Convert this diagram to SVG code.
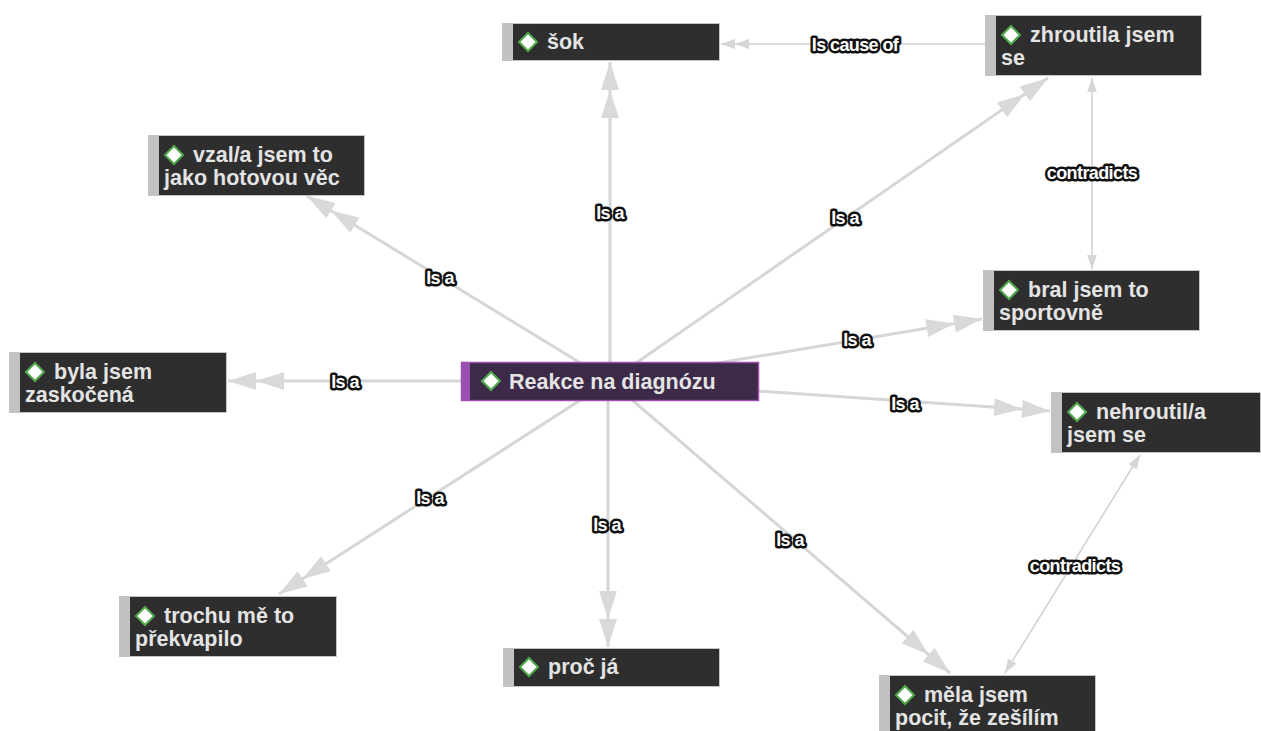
<svg xmlns="http://www.w3.org/2000/svg" width="1261" height="731" viewBox="0 0 1261 731">
<style>
.bar{fill:#c2c2c2}
.body{fill:#2e2e2e;stroke:#c4c4c4;stroke-width:1}
.cbody{fill:#3c2a48;stroke:#9b4fb0;stroke-width:1.5}
.cbar{fill:#9b4fb0}
.t{font-family:"Liberation Sans",Arial,sans-serif;font-weight:bold;font-size:21.5px;fill:#e4e4e4}
.dia{fill:#ffffff;stroke:#4fa84a;stroke-width:2}
.isa{stroke:#d6d6d6;stroke-width:3;fill:none;marker-end:url(#dbl)}
.thin{stroke:#d2d2d2;stroke-width:1.6;fill:none}
.lbl{font-family:"Liberation Sans",Arial,sans-serif;font-weight:bold;font-size:18px;fill:#ffffff;stroke:#111111;stroke-width:5;stroke-linejoin:round;paint-order:stroke;text-anchor:middle;letter-spacing:-0.6px}
</style>
<defs>
<marker id="dbl" markerUnits="userSpaceOnUse" viewBox="0 0 56 18" refX="56" refY="9" markerWidth="56" markerHeight="18" orient="auto">
<path d="M56,9 L28,0 L28,18 Z M28,9 L0,0 L0,18 Z" fill="#d9d9d9"/>
</marker>
<marker id="sdbl" markerUnits="userSpaceOnUse" viewBox="0 0 28 10" refX="28" refY="5" markerWidth="28" markerHeight="10" orient="auto">
<path d="M28,5 L14,0 L14,10 Z M14,5 L0,0 L0,10 Z" fill="#d6d6d6"/>
</marker>
<marker id="sgl" markerUnits="userSpaceOnUse" viewBox="0 0 14 10" refX="14" refY="5" markerWidth="14" markerHeight="10" orient="auto-start-reverse">
<path d="M14,5 L0,0 L0,10 Z" fill="#d6d6d6"/>
</marker>
</defs>
<rect width="1261" height="731" fill="#ffffff"/>
<g id="connectors">
<line class="isa" x1="610" y1="381" x2="610" y2="62"/>
<line class="isa" x1="610" y1="381" x2="1048" y2="78"/>
<line class="isa" x1="610" y1="381" x2="307" y2="196"/>
<line class="isa" x1="610" y1="381" x2="228" y2="381"/>
<line class="isa" x1="610" y1="381" x2="982" y2="319"/>
<line class="isa" x1="610" y1="381" x2="1050" y2="411"/>
<line class="isa" x1="610" y1="381" x2="279" y2="594"/>
<line class="isa" x1="608" y1="381" x2="608" y2="647"/>
<line class="isa" x1="610" y1="381" x2="950" y2="673"/>
<line class="thin" x1="985" y1="44" x2="721" y2="44" marker-end="url(#sdbl)"/>
<line class="thin" x1="1092" y1="78" x2="1092" y2="269" marker-start="url(#sgl)" marker-end="url(#sgl)"/>
<line class="thin" x1="1140" y1="455" x2="1005" y2="673" marker-start="url(#sgl)" marker-end="url(#sgl)"/>
<text class="lbl" x="610" y="219">Is a</text>
<text class="lbl" x="845" y="224">Is a</text>
<text class="lbl" x="440" y="284">Is a</text>
<text class="lbl" x="345" y="388">Is a</text>
<text class="lbl" x="857" y="346">Is a</text>
<text class="lbl" x="905" y="410">Is a</text>
<text class="lbl" x="430" y="504">Is a</text>
<text class="lbl" x="607" y="531">Is a</text>
<text class="lbl" x="790" y="546">Is a</text>
<text class="lbl" x="855" y="51">Is cause of</text>
<text class="lbl" x="1092" y="179">contradicts</text>
<text class="lbl" x="1075" y="572">contradicts</text>
</g>
<g id="center">
<rect class="cbody" x="461.5" y="362.5" width="297" height="38"/>
<rect class="cbar" x="461" y="362" width="9" height="39"/>
<path class="dia" d="M491,372 L500,381 L491,390 L482,381 Z"/>
<text class="t" x="509" y="389">Reakce na diagnózu</text>
</g>
<g id="sok">
<rect class="body" x="502.5" y="23.5" width="217" height="37"/>
<rect class="bar" x="502" y="23" width="11" height="38"/>
<path class="dia" d="M528,33 L537,42 L528,51 L519,42 Z"/>
<text class="t" x="547" y="49">šok</text>
</g>
<g id="zhroutila">
<rect class="body" x="985.5" y="15.5" width="216" height="60"/>
<rect class="bar" x="985" y="15" width="11" height="61"/>
<path class="dia" d="M1011,26 L1020,35 L1011,44 L1002,35 Z"/>
<text class="t" x="1030" y="42">zhroutila jsem</text>
<text class="t" x="1001" y="65">se</text>
</g>
<g id="vzal">
<rect class="body" x="148.5" y="135.5" width="216" height="60"/>
<rect class="bar" x="148" y="135" width="11" height="61"/>
<path class="dia" d="M174,146 L183,155 L174,164 L165,155 Z"/>
<text class="t" x="193" y="162">vzal/a jsem to</text>
<text class="t" x="164" y="185">jako hotovou věc</text>
</g>
<g id="bral">
<rect class="body" x="983.5" y="270.5" width="216" height="60"/>
<rect class="bar" x="983" y="270" width="11" height="61"/>
<path class="dia" d="M1009,281 L1018,290 L1009,299 L1000,290 Z"/>
<text class="t" x="1028" y="297">bral jsem to</text>
<text class="t" x="999" y="320">sportovně</text>
</g>
<g id="byla">
<rect class="body" x="9.5" y="352.5" width="217" height="60"/>
<rect class="bar" x="9" y="352" width="11" height="61"/>
<path class="dia" d="M35,363 L44,372 L35,381 L26,372 Z"/>
<text class="t" x="54" y="379">byla jsem</text>
<text class="t" x="25" y="402">zaskočená</text>
</g>
<g id="nehroutil">
<rect class="body" x="1051.5" y="392.5" width="209" height="60"/>
<rect class="bar" x="1051" y="392" width="11" height="61"/>
<path class="dia" d="M1077,403 L1086,412 L1077,421 L1068,412 Z"/>
<text class="t" x="1096" y="419">nehroutil/a</text>
<text class="t" x="1067" y="442">jsem se</text>
</g>
<g id="trochu">
<rect class="body" x="119.5" y="596.5" width="217" height="60"/>
<rect class="bar" x="119" y="596" width="11" height="61"/>
<path class="dia" d="M145,607 L154,616 L145,625 L136,616 Z"/>
<text class="t" x="164" y="623">trochu mě to</text>
<text class="t" x="135" y="646">překvapilo</text>
</g>
<g id="proc">
<rect class="body" x="503.5" y="648.5" width="216" height="38"/>
<rect class="bar" x="503" y="648" width="11" height="39"/>
<path class="dia" d="M529,658 L538,667 L529,676 L520,667 Z"/>
<text class="t" x="548" y="674">proč já</text>
</g>
<g id="mela">
<rect class="body" x="879.5" y="675.5" width="216" height="62"/>
<rect class="bar" x="879" y="675" width="11" height="60"/>
<path class="dia" d="M905,686 L914,695 L905,704 L896,695 Z"/>
<text class="t" x="924" y="702">měla jsem</text>
<text class="t" x="895" y="725">pocit, že zešílím</text>
</g>
</svg>
